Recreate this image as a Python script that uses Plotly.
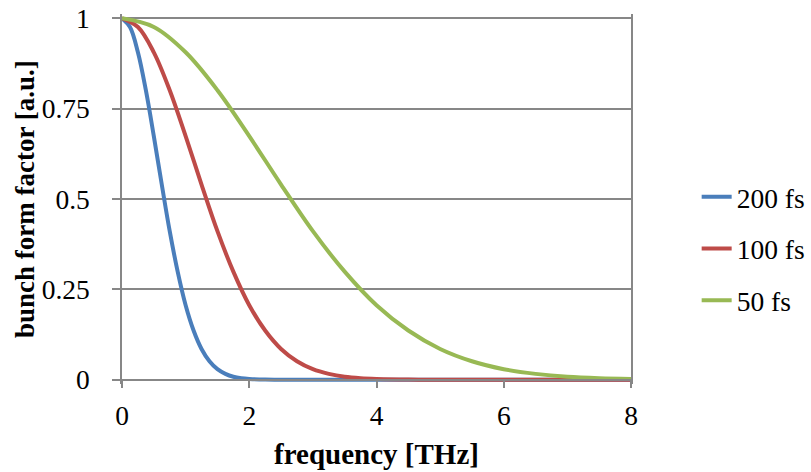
import plotly.graph_objects as go

# Frequencies [THz] and form-factor values
freq_200 = [0, 0.125, 0.25, 0.375, 0.5, 0.625, 0.75, 0.875, 1.0, 1.125, 1.25, 1.375,
            1.5, 1.625, 1.75, 1.875, 2.0, 2.25, 2.5, 3, 4, 5, 6, 7, 8]
ff_200 = [1, 0.976, 0.906, 0.801, 0.674, 0.540, 0.411, 0.299, 0.206, 0.136, 0.085, 0.051,
          0.029, 0.016, 0.008, 0.004, 0.002, 0.0003, 0.0001, 0, 0, 0, 0, 0, 0]

freq_100 = [0, 0.25, 0.5, 0.75, 1.0, 1.25, 1.5, 1.75, 2.0, 2.25, 2.5, 2.75, 3.0, 3.25,
            3.5, 3.75, 4.0, 4.5, 5, 6, 7, 8]
ff_100 = [1, 0.976, 0.906, 0.801, 0.674, 0.540, 0.411, 0.299, 0.206, 0.136, 0.085, 0.051,
          0.029, 0.016, 0.008, 0.004, 0.002, 0.0003, 0.0001, 0, 0, 0]

freq_50 = [0, 0.5, 1.0, 1.5, 2.0, 2.5, 3.0, 3.5, 4.0, 4.5, 5.0, 5.5, 6.0, 6.5, 7.0, 7.5, 8.0]
ff_50 = [1, 0.976, 0.906, 0.801, 0.674, 0.540, 0.411, 0.299, 0.206, 0.136, 0.085, 0.051,
         0.029, 0.016, 0.008, 0.004, 0.002]

names = ["200 fs", "100 fs", "50 fs"]
colors = ["#4A7EBB", "#BE4B48", "#98B954"]

x_ticks = [0, 2, 4, 6, 8]
y_ticks = [0, 0.25, 0.5, 0.75, 1]
y_tick_text = ["0", "0.25", "0.5", "0.75", "1"]

x_title = "frequency [THz]"
y_title = "bunch form factor [a.u.]"

FONT = "Liberation Serif"
GRID = "#878787"
FS = 27.5
FS_TITLE = 29

fig = go.Figure()
for i, (xs, ys) in enumerate([(freq_200, ff_200), (freq_100, ff_100), (freq_50, ff_50)]):
    fig.add_trace(go.Scatter(
        x=xs, y=ys, mode="lines", name=names[i],
        line=dict(color=colors[i], width=4, shape="spline", smoothing=1.0),
        legendgroup=names[i],
    ))

ypad = 0.012
fig.update_layout(
    width=811, height=472,
    margin=dict(l=122, r=180, t=14, b=88, autoexpand=False),
    paper_bgcolor="white", plot_bgcolor="white",
    font=dict(family=FONT, size=FS, color="black"),
    showlegend=True,
    legend=dict(
        x=1.129, y=0.365, xanchor="left", yanchor="middle",
        traceorder="grouped", tracegroupgap=13,
        font=dict(family=FONT, size=FS, color="black"),
        bgcolor="rgba(0,0,0,0)",
    ),
    xaxis=dict(
        range=[0, 8], tickvals=x_ticks, ticktext=[str(v) for v in x_ticks],
        showgrid=False, zeroline=False,
        showline=True, linecolor=GRID, linewidth=1.5,
        ticks="outside", ticklen=8, tickcolor=GRID, tickwidth=1.5,
        anchor="free", position=ypad / (1 + 2 * ypad),
        ticklabelstandoff=4,
        tickfont=dict(family=FONT, size=FS),
        title=dict(text="<b>" + x_title + "</b>", standoff=12,
                   font=dict(family=FONT, size=FS_TITLE)),
    ),
    yaxis=dict(
        range=[-ypad, 1 + ypad], tickvals=y_ticks, ticktext=y_tick_text,
        showgrid=True, gridcolor=GRID, gridwidth=1.5, zeroline=False,
        showline=True, linecolor=GRID, linewidth=1.5, mirror=True,
        ticks="outside", ticklen=8, tickcolor=GRID, tickwidth=1.5,
        ticklabelstandoff=17,
        tickfont=dict(family=FONT, size=FS),
    ),
)

# y-axis title placed as a rotated annotation
fig.add_annotation(
    text="<b>" + y_title + "</b>", textangle=-90,
    xref="paper", yref="paper", x=(25 - 122) / 509, y=0.5,
    xanchor="center", yanchor="middle", showarrow=False,
    font=dict(family=FONT, size=27, color="black"),
)

fig.write_html("out.html")
